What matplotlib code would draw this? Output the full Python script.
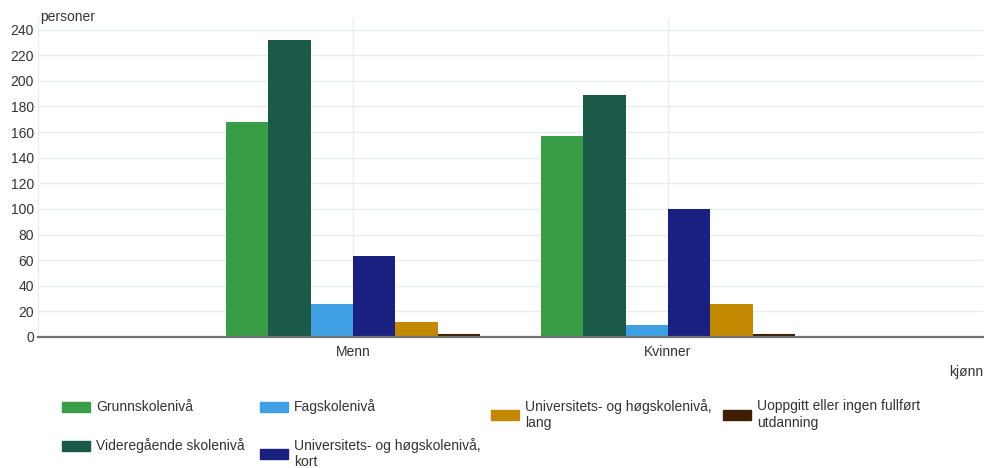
import matplotlib.pyplot as plt
import numpy as np
from matplotlib.patches import Rectangle

plt.rcParams['font.family'] = ['Liberation Sans', 'DejaVu Sans']

categories = ["Menn", "Kvinner"]
series_names = [
    "Grunnskolenivå",
    "Videregående skolenivå",
    "Fagskolenivå",
    "Universitets- og høgskolenivå,\nkort",
    "Universitets- og høgskolenivå,\nlang",
    "Uoppgitt eller ingen fullført\nutdanning",
]
grunnskole = [168, 157]
videregaende = [232, 189]
fagskole = [26, 9]
uni_kort = [63, 100]
uni_lang = [12, 26]
uoppgitt = [2, 2]
series_values = [grunnskole, videregaende, fagskole, uni_kort, uni_lang, uoppgitt]
colors = ["#399c46", "#1b5948", "#3e9fe3", "#19207f", "#c28800", "#3f1e00"]
y_ticks = list(range(0, 241, 20))

text_color = "#333333"
grid_color = "#e9eded"
fs = 10

fig = plt.figure(figsize=(9.84, 4.68), dpi=100)
ax = fig.add_axes([38 / 984, 1 - 337 / 468, 945 / 984, 319 / 468])

x = np.arange(len(categories))
n = len(series_values)
width = 0.1343
for i, vals in enumerate(series_values):
    offset = (i - (n - 1) / 2) * width
    ax.bar(x + offset, vals, width=width, color=colors[i], zorder=3)

ax.set_xlim(-1, 2)
ax.set_ylim(0, 249)
ax.set_yticks(y_ticks)
ax.set_xticks(x)
ax.set_xticklabels(categories)
ax.tick_params(axis='both', length=0, labelsize=fs, colors=text_color)
ax.tick_params(axis='x', pad=6)
ax.tick_params(axis='y', pad=3)
ax.grid(True, color=grid_color, linewidth=1, zorder=0)

for side in ['top', 'right']:
    ax.spines[side].set_visible(False)
ax.spines['left'].set_color(grid_color)
ax.spines['bottom'].set_color("#707070")
ax.spines['bottom'].set_linewidth(1.6)
ax.spines['bottom'].set_zorder(4)

fig.text(40 / 984, 1 - 17 / 468, "personer", fontsize=fs, color=text_color, va='center', ha='left')
fig.text(983 / 984, 1 - 372 / 468, "kjønn", fontsize=fs, color=text_color, va='center', ha='right')

# legend laid out by hand: (column, row) of each entry
legend_slots = [(0, 0), (0, 1), (1, 0), (1, 1), (2, 0), (3, 0)]
col_x = [62, 260, 491, 723]
row_y = [407, 446]
line_h = 15
for name, c, (col, row) in zip(series_names, colors, legend_slots):
    nlines = name.count("\n") + 1
    cy = row_y[row] + (nlines - 1) * line_h / 2
    sx = col_x[col]
    fig.add_artist(Rectangle((sx / 984, 1 - (cy + 5) / 468), 28 / 984, 10 / 468,
                             transform=fig.transFigure, color=c))
    fig.text((sx + 34) / 984, 1 - cy / 468, name, fontsize=fs, color=text_color,
             va='center', ha='left', linespacing=1.2)

fig.savefig("out.png", dpi=100)
